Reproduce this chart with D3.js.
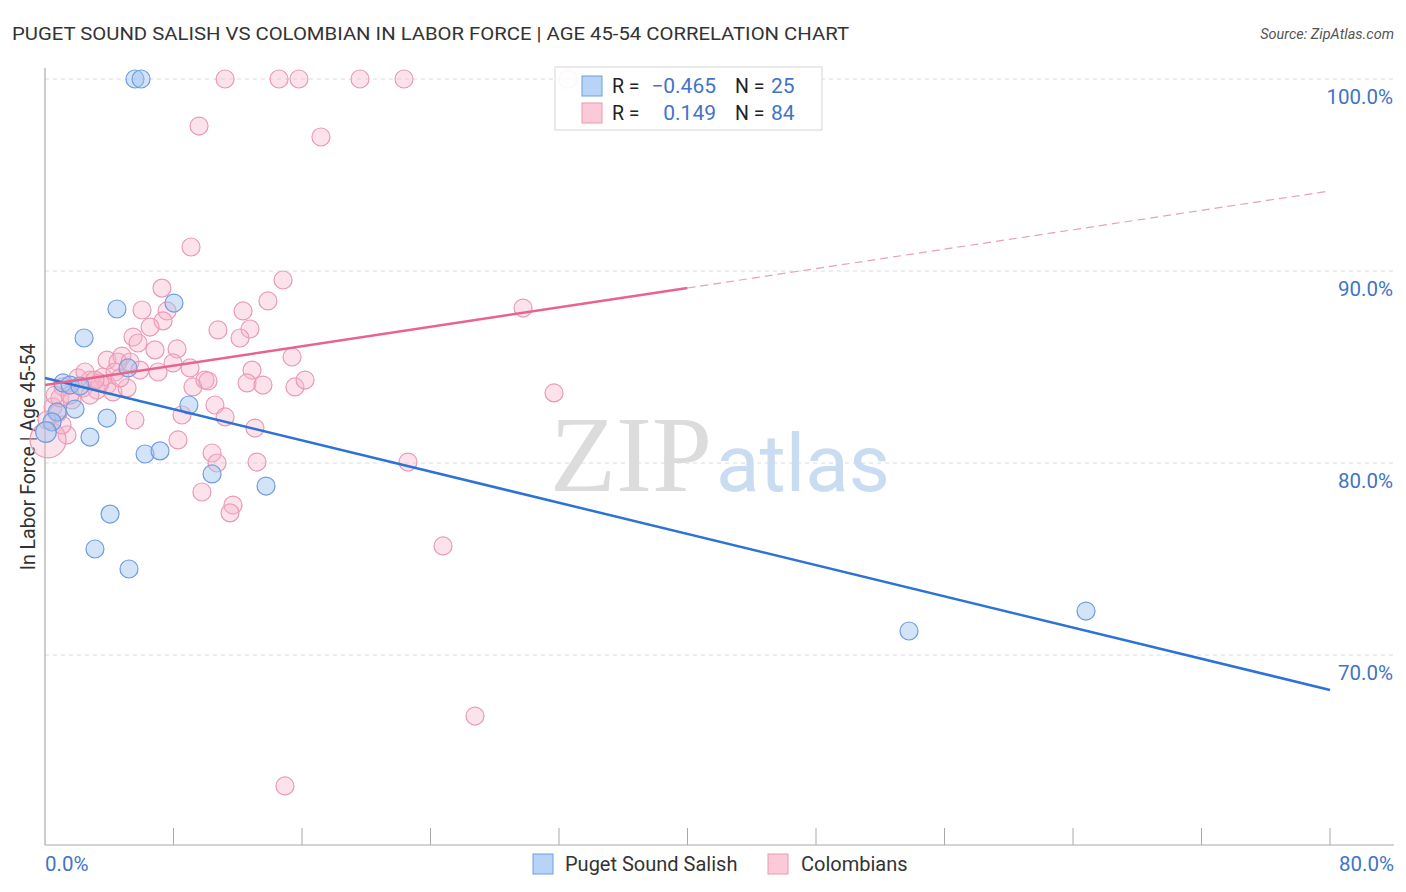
<!DOCTYPE html>
<html><head><meta charset="utf-8">
<script src="https://cdn.jsdelivr.net/npm/d3@7"></script>
<style>body{margin:0;background:#fff;} svg{display:block;}</style>
</head><body>
<svg id="chart" width="1406" height="892"></svg>
<script>
const title = "PUGET SOUND SALISH VS COLOMBIAN IN LABOR FORCE | AGE 45-54 CORRELATION CHART";
const source = "Source: ZipAtlas.com";
const yLabel = "In Labor Force | Age 45-54";
const seriesNames = ["Puget Sound Salish", "Colombians"];
const rValues = ["-0.465", "0.149"];
const nValues = ["25", "84"];
const yTicks = [70, 80, 90, 100];
const xTicks = [0, 8, 16, 24, 32, 40, 48, 56, 64, 72, 80];
const xTickLabels = ["0.0%", "80.0%"];

const blueX = [5.60,5.98,4.48,2.43,8.03,5.17,1.12,1.56,2.18,1.87,0.75,0.44,0.06,3.86,2.80,8.96,6.23,7.16,10.40,13.76,4.05,3.11,5.23,53.79,64.81];
const blueY = [100,100,88.02,86.51,88.33,84.95,84.17,84.06,84.01,82.81,82.66,82.14,81.61,82.34,81.35,83.02,80.47,80.63,79.43,78.80,77.34,75.52,74.48,71.25,72.29];

const pinkX = [11.21,14.57,15.81,19.61,22.35,32.56,9.59,17.18,9.09,14.82,29.76,13.88,12.33,7.28,7.60,6.04,7.35,6.54,10.77,12.76,12.14,5.48,5.79,8.22,6.85,3.86,4.79,4.54,5.29,7.97,9.03,7.04,15.38,12.89,12.58,13.57,15.56,16.19,9.21,9.96,10.15,2.05,2.80,3.61,3.86,1.12,2.37,3.24,2.80,4.23,5.11,0.50,0.81,1.37,0.19,5.60,8.53,8.28,10.58,11.21,13.07,10.40,10.71,13.20,9.77,11.70,11.52,22.60,24.78,31.69,26.77,14.94,0.93,1.68,0.62,2.49,3.42,4.36,1.56,0.12,1.06,3.11,4.67,5.91];
const pinkY = [100,100,100,100,100,100,97.55,96.98,91.25,89.53,88.07,88.44,87.92,89.11,87.92,87.97,87.40,87.08,86.93,86.98,86.51,86.56,86.25,85.94,85.89,85.36,85.57,85.26,85.26,85.21,84.95,84.74,85.52,84.84,84.17,84.06,83.96,84.32,83.96,84.32,84.27,84.43,84.32,84.48,84.06,83.96,83.91,83.80,83.54,83.70,83.91,82.92,82.60,81.46,81.20,82.24,82.50,81.20,83.02,82.40,81.82,80.52,80.00,80.05,78.49,77.81,77.40,80.05,75.68,83.65,66.82,63.18,83.39,83.28,83.54,84.74,84.17,84.74,83.54,82.24,81.98,84.32,84.43,84.84];
// larger bubbles (index -> radius multiplier)
const blueBig = {12: 1.15};
const pinkBig = {54: 2.0};

// trend lines [x0,y0,x1,y1]
const blueTrend = [0, 84.43, 80, 68.18];
const pinkTrend = [0, 84.06, 80, 94.17];
const pinkSolidEnd = 40;

const svg = d3.select("#chart");
const plotLeft = 45, plotRight = 1330, plotTop = 68, plotBottom = 845;
const x = d3.scaleLinear().domain([0, 80]).range([plotLeft, plotRight]);
const y = d3.scaleLinear().domain([60, 100]).range([847, 79]);

const blueStroke = "#6e9de0", blueFill = "rgba(160,196,240,0.45)";
const pinkStroke = "#e99ab4", pinkFill = "rgba(248,182,202,0.38)";
const labelBlue = "#3f74c9";

// title
svg.append("text").attr("x", 12).attr("y", 40).text(title)
  .attr("font-family", "Roboto, 'Noto Sans', sans-serif").attr("font-size", 18.5)
  .attr("fill", "#333").attr("textLength", 837).attr("lengthAdjust", "spacingAndGlyphs");
svg.append("text").attr("x", 1394).attr("y", 39).attr("text-anchor", "end").text(source)
  .attr("font-family", "Roboto, sans-serif").attr("font-size", 14.5).attr("font-style", "italic").attr("fill", "#555");

// grid lines
svg.append("g").selectAll("line").data(yTicks).join("line")
  .attr("x1", plotLeft).attr("x2", 1394).attr("y1", d => y(d)).attr("y2", d => y(d))
  .attr("stroke", "#dcdcdc").attr("stroke-dasharray", "4,4").attr("stroke-width", 1);

// y tick labels
svg.append("g").selectAll("text").data(yTicks).join("text")
  .attr("x", 1393).attr("y", d => y(d) + 25).attr("text-anchor", "end")
  .attr("font-family", "Roboto, sans-serif").attr("font-size", 20.5).attr("fill", labelBlue)
  .text(d => d.toFixed(1) + "%");

// watermark
const wm = svg.append("text").attr("x", 720).attr("y", 491).attr("text-anchor", "middle");
wm.append("tspan").text("ZIP").attr("font-family", "'Liberation Serif', 'DejaVu Serif', serif")
  .attr("font-size", 108).attr("fill", "#dcdcdc");
wm.append("tspan").text("atlas").attr("font-family", "Roboto, sans-serif")
  .attr("font-size", 80).attr("fill", "#c9dcf2").attr("dx", 4);

// axes lines
svg.append("line").attr("x1", plotLeft).attr("x2", plotLeft).attr("y1", plotTop).attr("y2", plotBottom)
  .attr("stroke", "#aaa").attr("stroke-width", 1.2);
svg.append("line").attr("x1", plotLeft).attr("x2", 1394).attr("y1", plotBottom).attr("y2", plotBottom)
  .attr("stroke", "#aaa").attr("stroke-width", 1.2);
svg.append("g").selectAll("line").data(xTicks.slice(1)).join("line")
  .attr("x1", d => x(d)).attr("x2", d => x(d)).attr("y1", 828).attr("y2", plotBottom)
  .attr("stroke", "#aaa").attr("stroke-width", 1);

svg.append("text").attr("x", plotLeft).attr("y", 871).text(xTickLabels[0])
  .attr("font-family", "Roboto, sans-serif").attr("font-size", 20.5).attr("fill", labelBlue);
svg.append("text").attr("x", 1394).attr("y", 871).attr("text-anchor", "end").text(xTickLabels[1])
  .attr("font-family", "Roboto, sans-serif").attr("font-size", 20.5).attr("fill", labelBlue);

// y label
svg.append("text").attr("transform", "translate(35,457) rotate(-90)").attr("text-anchor", "middle")
  .text(yLabel).attr("font-family", "Roboto, sans-serif").attr("font-size", 19.5).attr("fill", "#333");

// points
const rad = 9;
const pinkData = pinkX.map((v, i) => ({x: v, y: pinkY[i], r: rad * (pinkBig[i] || 1)}));
const blueData = blueX.map((v, i) => ({x: v, y: blueY[i], r: rad * (blueBig[i] || 1)}));
svg.append("g").selectAll("circle").data(pinkData).join("circle")
  .attr("cx", d => x(d.x)).attr("cy", d => y(d.y)).attr("r", d => d.r)
  .attr("fill", pinkFill).attr("stroke", pinkStroke).attr("stroke-width", 1.2);
svg.append("g").selectAll("circle").data(blueData).join("circle")
  .attr("cx", d => x(d.x)).attr("cy", d => y(d.y)).attr("r", d => d.r)
  .attr("fill", blueFill).attr("stroke", blueStroke).attr("stroke-width", 1.2);

// trend lines
svg.append("line").attr("x1", x(blueTrend[0])).attr("y1", y(blueTrend[1]))
  .attr("x2", x(blueTrend[2])).attr("y2", y(blueTrend[3]))
  .attr("stroke", "#2d72d6").attr("stroke-width", 2.5);
const pinkAt = v => pinkTrend[1] + (pinkTrend[3] - pinkTrend[1]) * (v - pinkTrend[0]) / (pinkTrend[2] - pinkTrend[0]);
svg.append("line").attr("x1", x(pinkTrend[0])).attr("y1", y(pinkTrend[1]))
  .attr("x2", x(pinkSolidEnd)).attr("y2", y(pinkAt(pinkSolidEnd)))
  .attr("stroke", "#e8638e").attr("stroke-width", 2.5);
svg.append("line").attr("x1", x(pinkSolidEnd)).attr("y1", y(pinkAt(pinkSolidEnd)))
  .attr("x2", x(pinkTrend[2])).attr("y2", y(pinkTrend[3]))
  .attr("stroke", "#e8a0b6").attr("stroke-width", 1.2).attr("stroke-dasharray", "8,5");

// top legend box
const lg = svg.append("g");
lg.append("rect").attr("x", 555).attr("y", 67).attr("width", 267).attr("height", 63)
  .attr("fill", "rgba(255,255,255,0.9)").attr("stroke", "#ddd").attr("stroke-width", 1.2);
const rows = [
  {fill: "#b7d3f5", stroke: "#6e9de0", r: rValues[0], n: nValues[0]},
  {fill: "#fcc9d8", stroke: "#e99ab4", r: rValues[1], n: nValues[1]}
];
rows.forEach((d, i) => {
  const cy = 86 + i * 27;
  lg.append("rect").attr("x", 582).attr("y", cy - 10).attr("width", 20).attr("height", 20)
    .attr("fill", d.fill).attr("stroke", d.stroke).attr("stroke-width", 1);
  lg.append("text").attr("x", 612).attr("y", cy + 7).text("R =")
    .attr("font-family", "Roboto, sans-serif").attr("font-size", 19.5).attr("fill", "#222");
  lg.append("text").attr("x", 716).attr("y", cy + 7).attr("text-anchor", "end").text(d.r.replace("-", "\u2212"))
    .attr("font-family", "Roboto, sans-serif").attr("font-size", 21).attr("fill", labelBlue);
  lg.append("text").attr("x", 735).attr("y", cy + 7).text("N =")
    .attr("font-family", "Roboto, sans-serif").attr("font-size", 19.5).attr("fill", "#222");
  lg.append("text").attr("x", 771).attr("y", cy + 7).text(d.n)
    .attr("font-family", "Roboto, sans-serif").attr("font-size", 21).attr("fill", labelBlue);
});

// bottom legend
const bl = [
  {x: 533, tx: 565, name: seriesNames[0], fill: "#b7d3f5", stroke: "#6e9de0"},
  {x: 768, tx: 801, name: seriesNames[1], fill: "#fcc9d8", stroke: "#e99ab4"}
];
bl.forEach(d => {
  svg.append("rect").attr("x", d.x).attr("y", 854).attr("width", 20).attr("height", 20)
    .attr("fill", d.fill).attr("stroke", d.stroke).attr("stroke-width", 1);
  svg.append("text").attr("x", d.tx).attr("y", 871).text(d.name)
    .attr("font-family", "Roboto, sans-serif").attr("font-size", 20).attr("fill", "#333");
});
</script>
</body></html>
